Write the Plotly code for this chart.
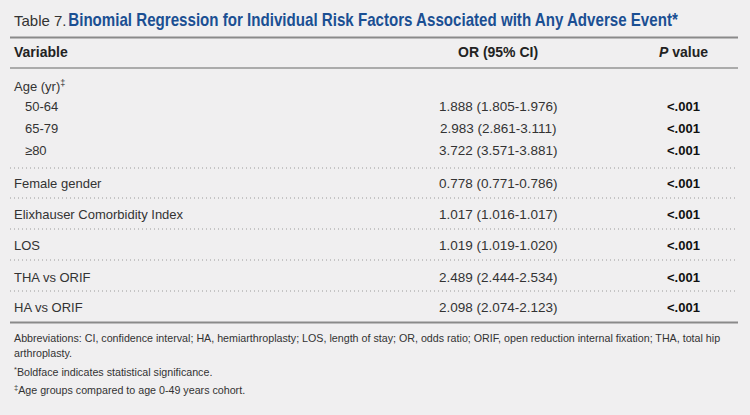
import plotly.graph_objects as go

# ---- data ----
variables = ["Age (yr)<sup>‡</sup>", "50-64", "65-79", "≥80", "Female gender",
             "Elixhauser Comorbidity Index", "LOS", "THA vs ORIF", "HA vs ORIF"]
odds_ratio = [None, 1.888, 2.983, 3.722, 0.778, 1.017, 1.019, 2.489, 2.098]
ci_low = [None, 1.805, 2.861, 3.571, 0.771, 1.016, 1.019, 2.444, 2.074]
ci_high = [None, 1.976, 3.111, 3.881, 0.786, 1.017, 1.020, 2.534, 2.123]
p_values = ["", "<.001", "<.001", "<.001", "<.001", "<.001", "<.001", "<.001", "<.001"]
is_sub = [False, True, True, True, False, False, False, False, False]
headers = ["Variable", "OR (95% CI)", "<i>P</i> value"]
title_prefix = "Table 7."
title_main = "Binomial Regression for Individual Risk Factors Associated with Any Adverse Event*"
footnotes = [
    "Abbreviations: CI, confidence interval; HA, hemiarthroplasty; LOS, length of stay; OR, odds ratio; ORIF, open reduction internal fixation; THA, total hip",
    "arthroplasty.",
    "<sup>*</sup>Boldface indicates statistical significance.",
    "<sup>‡</sup>Age groups compared to age 0-49 years cohort.",
]

# ---- layout (pixel coordinates) ----
W, H = 750, 415
row_y = [86, 106, 128, 150, 183, 214, 245, 277, 307]
dotted_y = [168, 198, 229, 260, 291]
foot_y = [338, 353, 371, 389]
x_left, x_right = 10, 738
x_var, x_sub, x_or, x_p = 12, 23, 498, 683
title_x0, title_x1 = 66, 676

BODY = "Liberation Sans, Arial, sans-serif"
TXT = "#333333"
BLUE = "#1b4f93"
BG = "#f0eff0"

fig = go.Figure()
ann = []

ann.append(dict(x=x_var, y=20, text=title_prefix, xanchor="left", yanchor="middle",
                font=dict(family=BODY, size=15, color=TXT)))
ann.append(dict(x=title_x0, y=19.5, text="<b>" + title_main + "</b>", xanchor="left", yanchor="middle",
                font=dict(family=BODY, size=18, color=BLUE)))

# headers
ann.append(dict(x=x_var, y=52, text="<b>" + headers[0] + "</b>", xanchor="left", yanchor="middle",
                font=dict(family=BODY, size=14, color="#222222")))
ann.append(dict(x=x_or, y=52, text="<b>" + headers[1] + "</b>", xanchor="center", yanchor="middle",
                font=dict(family=BODY, size=14, color="#222222")))
ann.append(dict(x=x_p, y=52, text="<b>" + headers[2] + "</b>", xanchor="center", yanchor="middle",
                font=dict(family=BODY, size=14, color="#222222")))

for i, v in enumerate(variables):
    y = row_y[i]
    ann.append(dict(x=x_sub if is_sub[i] else x_var, y=y, text=v, xanchor="left", yanchor="middle",
                    font=dict(family=BODY, size=13, color=TXT)))
    if odds_ratio[i] is not None:
        s = f"{odds_ratio[i]:.3f} ({ci_low[i]:.3f}-{ci_high[i]:.3f})"
        ann.append(dict(x=x_or, y=y, text=s, xanchor="center", yanchor="middle",
                        font=dict(family=BODY, size=13.5, color=TXT)))
    if p_values[i]:
        ann.append(dict(x=x_p, y=y, text="<b>" + p_values[i].replace("<", "&lt;") + "</b>",
                        xanchor="center", yanchor="middle",
                        font=dict(family=BODY, size=13, color="#111111")))

for t, y in zip(footnotes, foot_y):
    ann.append(dict(x=x_var, y=y, text=t, xanchor="left", yanchor="middle",
                    font=dict(family=BODY, size=10.7, color=TXT)))

for a in ann:
    a.update(xref="x", yref="y", showarrow=False)

shapes = []
for y in (37.5, 322.5):
    shapes.append(dict(type="line", xref="x", yref="y", x0=x_left, x1=x_right, y0=y, y1=y,
                       line=dict(color="#8a8a8a", width=2)))
shapes.append(dict(type="line", xref="x", yref="y", x0=x_left, x1=x_right, y0=68, y1=68,
                   line=dict(color="#ababab", width=2)))
for y in dotted_y:
    shapes.append(dict(type="line", xref="x", yref="y", x0=x_left, x1=x_right, y0=y, y1=y,
                       line=dict(color="#9a9a9a", width=1, dash="1px,3px")))

fig.update_layout(
    width=W, height=H, margin=dict(l=0, r=0, t=0, b=0),
    paper_bgcolor=BG, plot_bgcolor=BG,
    xaxis=dict(range=[0, W], visible=False, fixedrange=True),
    yaxis=dict(range=[H, 0], visible=False, fixedrange=True),
    annotations=ann, shapes=shapes, showlegend=False,
)

# remove default page margin; narrow the bold title to a condensed width
post = (
    "document.body.style.margin='0';"
    "document.body.style.background='" + BG + "';"
    "document.querySelectorAll('text.annotation-text').forEach(function(el){"
    "  if (el.textContent.indexOf('Binomial') === 0) {"
    "    var w = el.getBBox().width;"
    "    el.style.transformBox = 'fill-box';"
    "    el.style.transformOrigin = '0% 50%';"
    "    el.style.transform = 'scaleX(' + (" + str(title_x1 - title_x0) + " / w) + ')';"
    "  }"
    "});"
)

fig.write_html("out.html", post_script=post, config={"displayModeBar": False})
